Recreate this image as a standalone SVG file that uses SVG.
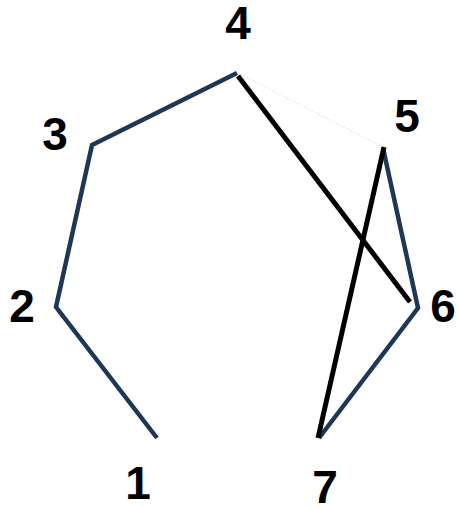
<svg xmlns="http://www.w3.org/2000/svg" width="459" height="507" viewBox="0 0 459 507">
<style>
.lbl{font-family:"Liberation Sans",Arial,sans-serif;font-weight:bold;font-size:46px;fill:#000;text-anchor:middle}
.navy{fill:none;stroke:#1e3756;stroke-width:4.5;stroke-linejoin:miter}
.blk{fill:none;stroke:#000;stroke-width:5}
.faint{fill:none;stroke:#e4e4e4;stroke-width:1;stroke-dasharray:2 2}
</style>
<rect width="459" height="507" fill="#fff"/>
<g id="connectors">
<line class="faint" x1="240" y1="74" x2="381" y2="146"/>
<polyline class="navy" points="157,438 56,307 92,145 237,73"/>
<polyline class="navy" points="383,148 418,308 319,438"/>
<line class="blk" x1="238" y1="76" x2="410" y2="302"/>
<line class="blk" x1="384" y1="147" x2="318" y2="438"/>
</g>
<g id="n1"><text class="lbl" x="138" y="499">1</text></g>
<g id="n2"><text class="lbl" x="22" y="322">2</text></g>
<g id="n3"><text class="lbl" x="55" y="150">3</text></g>
<g id="n4"><text class="lbl" x="238" y="39">4</text></g>
<g id="n5"><text class="lbl" x="407" y="132">5</text></g>
<g id="n6"><text class="lbl" x="443" y="322">6</text></g>
<g id="n7"><text class="lbl" x="325" y="503">7</text></g>
</svg>
